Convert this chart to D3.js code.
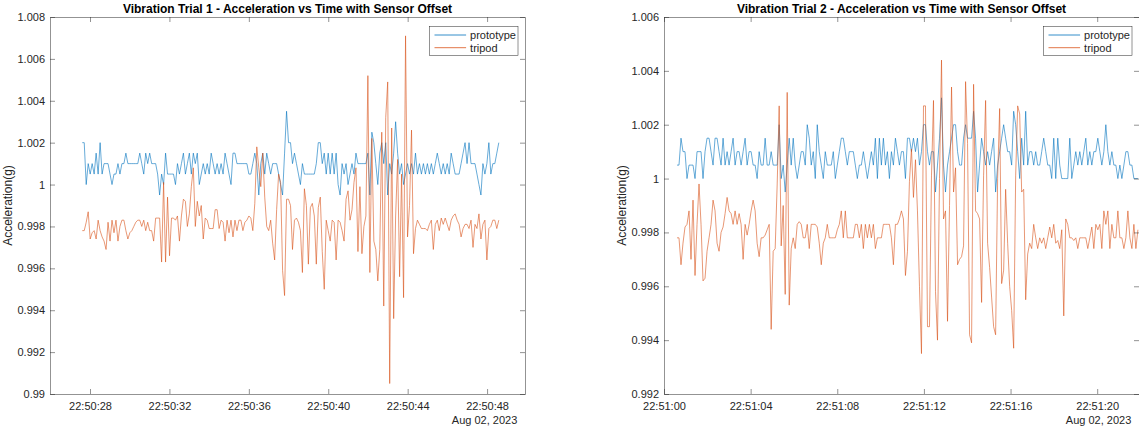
<!DOCTYPE html>
<html>
<head>
<meta charset="utf-8">
<script src="https://cdn.jsdelivr.net/npm/d3@7"></script>
<style>
  body { margin: 0; background: #fff; }
  svg { display: block; font-family: "Liberation Sans", Arial, Helvetica, sans-serif; }
</style>
</head>
<body>
<div id="chart"></div>
<script>
// names of the two sensors
var seriesNames = ["prototype", "tripod"];
var dateLabel = "Aug 02, 2023";
var day = "2023-08-02";

// ---- trial 1 (samples, ~10 per second)
var trial1Title = "Vibration Trial 1 - Acceleration vs Time with Sensor Offset";
var trial1Start = "22:50:27.61", trial1End = "22:50:48.59";
var trial1XLim = ["22:50:25.985", "22:50:49.91"];
var trial1XTicks = ["22:50:28", "22:50:32", "22:50:36", "22:50:40", "22:50:44", "22:50:48"];
var trial1YTicks = ["0.99", "0.992", "0.994", "0.996", "0.998", "1", "1.002", "1.004", "1.006", "1.008"];
var trial1Prototype = [
  1.002, 1.002, 1.0, 1.001, 1.0005, 1.001, 1.0005, 1.0015, 1.0005, 1.002,
  1.0005, 1.001, 1.001, 1.001, 1.0005, 1.0, 1.0005, 1.0005, 1.001, 1.0005,
  1.001, 1.001, 1.0015, 1.001, 1.001, 1.001, 1.001, 1.001, 1.001, 1.0015,
  1.001, 1.0005, 1.0015, 1.001, 1.0015, 1.001, 1.001, 1.001, 1.0005, 0.9995,
  1.0005, 1.0, 1.0015, 1.0005, 1.0005, 1.0005, 1.0005, 1.0, 1.001, 1.0005,
  1.001, 1.0015, 1.0005, 1.001, 1.0015, 1.0005, 1.0015, 1.001, 1.0015, 1.0,
  1.0005, 1.001, 1.0005, 1.001, 1.0005, 1.0015, 1.001, 1.0005, 1.001, 1.0005,
  1.001, 1.0005, 1.0015, 1.001, 1.0005, 1.0, 1.0015, 1.0015, 1.001, 1.001,
  1.001, 1.001, 1.001, 1.001, 1.0005, 1.0005, 1.001, 1.0015, 1.001, 0.9995,
  1.001, 1.0015, 1.0005, 1.0015, 1.001, 1.0005, 1.001, 1.001, 1.001, 1.0005,
  1.0, 0.9995, 1.0015, 1.0035, 1.002,
  1.002, 1.001, 1.0015, 1.001, 1.0005, 1.0, 1.001, 1.0005, 1.0005, 1.0005,
  1.0005, 1.0005, 1.0005, 1.001, 1.002, 1.002, 1.001, 1.0015, 1.0005, 1.0015,
  1.0005, 1.0015, 1.0005, 1.0015, 1.0, 0.9995, 1.001, 1.0005, 1.001, 1.0,
  1.0005, 1.001, 1.0005, 1.0015, 1.001, 1.001, 1.001, 1.001, 1.001, 1.0015,
  0.9995, 1.0025, 1.002, 1.001, 1.0, 1.0015, 1.002, 1.001, 1.002, 0.9995,
  1.001, 1.0005, 1.0015, 1.003, 1.0015, 1.0005, 1.001, 1.0, 1.0005, 1.001,
  1.0005, 1.001, 1.0005, 1.0015, 1.0005, 1.001, 1.0005, 1.001, 1.0005, 1.001,
  1.0005, 1.001, 1.0005, 1.001, 1.0015, 1.001, 1.0005, 1.001, 1.0005, 1.001,
  1.0005, 1.0015, 1.001, 1.0005, 1.0005, 1.0005, 1.001, 1.0015, 1.002, 1.001,
  1.002, 1.001, 1.001, 1.001, 1.0005, 1.0, 0.9995, 1.001, 1.0005, 1.001,
  1.002, 1.0005, 1.001, 1.001, 1.0015, 1.002
];
var trial1Tripod = [
  0.9978, 0.9978, 0.9982, 0.9987, 0.9974, 0.9977, 0.9978, 0.9974, 0.9983, 0.9978,
  0.9975, 0.9973, 0.9969, 0.9982, 0.9973, 0.9983, 0.9977, 0.9983, 0.9973, 0.998,
  0.9983, 0.9983, 0.9978, 0.9974, 0.9977, 0.9978, 0.998, 0.9982, 0.9983, 0.9983,
  0.998, 0.9983, 0.9978, 0.9982, 0.9978, 0.9978, 0.9973, 0.9984, 0.9984, 0.9984,
  0.9963, 1.0001, 0.9963, 0.9994, 0.9966, 0.9984, 0.9984, 0.9983, 0.9985, 0.9973,
  0.9985, 0.9993, 0.9992, 0.998, 0.9986, 0.9999, 1.0008, 0.998, 0.9992, 0.9985,
  0.999, 0.9974, 0.9984, 0.9983, 0.9979, 0.9979, 0.9979, 0.9988, 0.9988, 0.9979,
  0.9983, 0.9982, 0.9973, 0.9983, 0.9977, 0.9983, 0.9975, 0.9983, 0.9978, 0.9983,
  0.9983, 0.9978, 0.9982, 0.9983, 0.9985, 0.9984, 0.9978, 0.9991, 1.0018, 1.0008,
  0.9999, 1.0015, 0.9994, 0.998, 0.9978, 0.9983, 0.9972, 0.9964, 0.9988, 1.0005,
  1.0001, 0.9959, 0.9947, 0.9993, 0.9993, 0.999, 0.9969, 0.9983, 0.9984, 0.9982,
  0.9978, 0.9958, 0.9998, 0.999, 0.9962, 0.9989, 0.9991, 0.9985, 0.9962, 0.9989,
  0.9994, 0.9968, 0.995, 0.9983, 0.9978, 0.9973, 0.9983, 0.9982, 0.9964, 0.9983,
  0.9982, 0.9978, 0.9973, 0.9993, 0.9997, 0.9983, 0.9988, 1.0001, 1.0008, 0.9968,
  0.9999, 0.9967, 0.998, 0.9985, 1.0052, 0.9958, 1.0022, 0.9973, 0.9969, 0.9954,
  0.9969, 1.0025, 0.9942, 1.0032, 1.0049, 0.9905, 1.0027, 0.9936, 0.9985, 1.0012,
  0.9956, 1.0005, 0.9946, 1.0071, 0.9975, 0.999, 1.0026, 0.9967, 0.9979, 0.9983,
  0.9981, 0.9979, 0.9979, 0.9979, 0.9978, 0.9981, 0.9983, 0.9969, 0.9981, 0.9983,
  0.9978, 0.9984, 0.9981, 0.9984, 0.9981, 0.9978, 0.9983, 0.9985, 0.9986, 0.9983,
  0.9981, 0.9975, 0.9979, 0.9981, 0.9981, 0.9979, 0.9983, 0.997, 0.9981, 0.9979,
  0.9986, 0.9974, 0.9981, 0.9983, 0.9964, 0.9979, 0.998, 0.9983, 0.9983, 0.9979, 0.9983
];

// ---- trial 2
var trial2Title = "Vibration Trial 2 - Acceleration vs Time with Sensor Offset";
var trial2Start = "22:51:00.60", trial2End = "22:51:21.88";
var trial2XLim = ["22:51:00", "22:51:21.93"];
var trial2XTicks = ["22:51:00", "22:51:04", "22:51:08", "22:51:12", "22:51:16", "22:51:20"];
var trial2YTicks = ["0.992", "0.994", "0.996", "0.998", "1", "1.002", "1.004", "1.006"];
var trial2Prototype = [
  1.0005, 1.0005, 1.0015, 1.001, 1.001, 1.0, 1.0005, 1.0005, 1.0005, 1.0,
  1.001, 1.001, 1.001, 1.0, 1.001, 1.0015, 1.0015, 1.001, 1.0005, 1.0015,
  1.0015, 1.001, 1.0005, 1.0015, 1.0005, 1.001, 1.0005, 1.001, 1.0015, 1.0005,
  1.001, 1.001, 1.0005, 1.001, 1.0015, 1.0005, 1.001, 1.001, 1.0005, 1.0005,
  1.0, 1.001, 1.0005, 1.0005, 1.0015, 1.0005, 1.0005, 1.001, 1.0005, 1.0005,
  1.0005, 1.002, 1.0, 1.0005, 0.9995, 1.0005, 1.0015, 1.0005, 1.0015, 1.0005,
  1.0, 1.0005, 1.001, 1.001, 1.0005, 1.002, 1.0015, 1.0005, 1.001, 1.0,
  1.002, 1.001, 1.0005, 1.0, 1.001, 1.0005, 1.0005, 1.0005, 1.001, 1.0,
  1.0005, 1.001, 1.0015, 1.0015, 1.001, 1.0005, 1.001, 1.001, 1.001, 1.0005,
  1.0, 1.0005, 1.0005, 1.001, 1.0005, 1.0, 1.0005, 1.001, 1.0005, 1.0015,
  1.0, 1.0015, 1.0005, 1.0015, 1.0005, 1.001, 1.0, 1.001, 1.0005, 1.0015,
  1.001,
  1.0005, 1.001, 1.001, 1.0, 1.0015, 1.0015, 1.001, 1.0015, 1.001, 1.0015,
  1.0005, 1.001, 1.002, 1.002, 1.001, 1.0005, 1.001, 1.001, 0.9995, 1.0005,
  1.0015, 1.003, 1.0005, 0.9995, 1.0005, 1.001, 1.0015, 1.002, 1.002, 1.001,
  1.0005, 1.0005, 1.0015, 1.002, 1.0015, 1.0015, 1.0015, 1.0025, 1.0015, 0.9995,
  1.0005, 1.0015, 1.001, 1.0005, 1.001, 1.0005, 1.001, 1.0015, 0.9995, 1.0005,
  1.001, 1.0015, 1.002, 1.0015, 1.001, 1.001, 1.0005, 1.0025, 1.002, 1.001,
  1.0, 1.0015, 1.0005, 1.0025, 1.0005, 1.001, 1.001, 1.0005, 1.001, 1.0005,
  1.0005, 1.001, 1.0015, 1.001, 1.0005, 1.0005, 1.0, 1.0015, 1.0, 1.0015,
  1.0005, 1.0, 1.0, 1.0, 1.0, 1.0015, 1.0, 1.0005, 1.001, 1.0005,
  1.001, 1.0005, 1.001, 1.0015, 1.0005, 1.001, 1.0005, 1.001, 1.001, 1.0015,
  1.001, 1.0005, 1.001, 1.002, 1.001, 1.0005, 1.001, 1.0005, 1.0005, 1.0,
  1.0005, 1.0, 1.0005, 1.001, 1.001, 1.0005, 1.0005, 1.0, 1.0, 1.0
];
var trial2Tripod = [
  0.9978, 0.9978, 0.9968, 0.9976, 0.9982, 0.9983, 0.9988, 0.997, 0.9992, 0.9964,
  0.9983, 0.9998, 0.9983, 0.9962, 0.9963, 0.9973, 0.9978, 0.9983, 0.9992, 0.9988,
  0.9976, 0.9973, 0.998, 0.9982, 0.9987, 0.9993, 0.9988, 0.9987, 0.9983, 0.9988,
  0.9983, 0.9987, 0.9983, 0.997, 0.9983, 0.9979, 0.9983, 0.9988, 0.9992, 0.9988,
  0.9976, 0.9971, 0.9978, 0.9978, 0.9979, 0.9981, 0.9983, 0.9944, 0.9973, 0.9974,
  0.9998, 1.0027, 0.9975, 0.999, 0.9957, 1.0032, 0.9953, 0.9974, 0.9978, 0.9974,
  0.9983, 0.9984, 0.9983, 0.9978, 0.9978, 0.9983, 0.9974, 0.9983, 0.9983, 0.9983,
  0.9982, 0.9976, 0.9968, 0.9976, 0.9978, 0.9983, 0.9978, 0.9978, 0.9978, 0.9978,
  0.9981, 0.9983, 0.9988, 0.9978, 0.9988, 0.9978, 0.9978, 0.9978, 0.9978, 0.9983,
  0.9983, 0.9978, 0.9983, 0.9974, 0.9983, 0.9978, 0.9983, 0.9978, 0.9983, 0.9974,
  0.9978, 0.9978, 0.9978, 0.9983, 0.9983, 0.9983, 0.9983, 0.9978, 0.9968, 0.9983,
  0.9983,
  0.9985, 0.9988, 0.9985, 0.9964, 0.9973, 0.9999, 1.0011, 0.9993, 1.0007, 0.9988,
  0.996, 0.9935, 1.0027, 1.0027, 0.9945, 0.9945, 1.0001, 1.0029, 0.9958, 0.994,
  1.0, 1.0044, 0.9985, 0.9988, 0.9947, 0.999, 1.0034, 0.9995, 1.0004, 0.9968,
  0.997, 0.9971, 0.9975, 1.0036, 1.0013, 0.9942, 0.9939, 1.0035, 0.9988, 0.9987,
  0.9985, 0.9954, 1.0001, 1.0029, 0.9976, 0.9967, 0.9956, 0.9945, 0.9942, 1.0,
  1.0026, 0.9961, 0.9966, 0.9996, 0.9976, 0.996, 0.9951, 0.9937, 1.0001, 1.0027,
  1.0024, 0.9995, 0.9996, 0.9955, 0.9972, 0.9976, 0.9974, 0.9983, 0.9978, 0.9974,
  0.9978, 0.9976, 0.9978, 0.9974, 0.9978, 0.9982, 0.9978, 0.9983, 0.9976, 0.9977,
  0.9974, 0.9981, 0.9949, 0.9985, 0.9983, 0.9978, 0.9978, 0.9977, 0.9978, 0.9974,
  0.9978, 0.9978, 0.9978, 0.9978, 0.9974, 0.9978, 0.9982, 0.9974, 0.9983, 0.9981,
  0.9983, 0.9974, 0.9988, 0.9983, 0.9988, 0.9974, 0.9983, 0.9978, 0.9978, 0.9988,
  0.9978, 0.9978, 0.9974, 0.9978, 0.9988, 0.9978, 0.9974, 0.9983, 0.9974, 0.9981
];

// ---- layout
var svgWidth = 1139, svgHeight = 428;
var margin = {top: 17, bottom: 34};
var height = svgHeight - margin.top - margin.bottom;
var colors = ["#0072BD", "#D95319"];
var axisColor = "#262626";

var toDate = function(s) { return new Date(day + "T" + s + "Z"); };

var svg = d3.select("#chart")
  .append("svg")
    .attr("width", svgWidth)
    .attr("height", svgHeight);

var panels = [
  {id: 1, left: 50, width: 475, title: trial1Title, start: trial1Start, end: trial1End,
   xlim: trial1XLim, xticks: trial1XTicks, yticks: trial1YTicks, series: [trial1Prototype, trial1Tripod]},
  {id: 2, left: 664, width: 475, title: trial2Title, start: trial2Start, end: trial2End,
   xlim: trial2XLim, xticks: trial2XTicks, yticks: trial2YTicks, series: [trial2Prototype, trial2Tripod]}
];

panels.forEach(drawPanel);

function drawPanel(p) {
  var g = svg.append("g")
    .attr("transform", "translate(" + p.left + "," + margin.top + ")");

  var x = d3.scaleUtc()
    .domain(p.xlim.map(toDate))
    .range([0, p.width]);
  var yVals = p.yticks.map(Number);
  var y = d3.scaleLinear()
    .domain(d3.extent(yVals))
    .range([height, 0]);

  // clip the traces to the axes box
  g.append("clipPath").attr("id", "clip" + p.id)
    .append("rect").attr("width", p.width).attr("height", height);

  // sample times: evenly spaced between the first and last sample
  var t0 = toDate(p.start).getTime(), t1 = toDate(p.end).getTime();
  var line = d3.line()
    .x(function(d, i, arr) { return x(new Date(t0 + (t1 - t0) * i / (arr.length - 1))); })
    .y(function(d) { return y(d); });

  g.append("g").attr("clip-path", "url(#clip" + p.id + ")")
    .selectAll("path")
    .data(p.series)
    .enter()
    .append("path")
      .attr("d", function(d) { return line(d); })
      .attr("fill", "none")
      .attr("stroke", function(d, i) { return colors[i]; })
      .attr("stroke-width", 0.6)
      .attr("stroke-linejoin", "round");

  var xTickDates = p.xticks.map(toDate);
  var fmt = d3.utcFormat("%H:%M:%S");

  // bottom axis with labels, ticks pointing inward
  var bottom = g.append("g")
    .attr("transform", "translate(0," + height + ")")
    .call(d3.axisBottom(x).tickValues(xTickDates).tickFormat(fmt)
      .tickSizeInner(-5).tickSizeOuter(0).tickPadding(8));
  // top axis, ticks only
  var topAx = g.append("g")
    .call(d3.axisTop(x).tickValues(xTickDates).tickFormat("")
      .tickSizeInner(-5).tickSizeOuter(0));
  // left axis with labels
  var left = g.append("g")
    .call(d3.axisLeft(y).tickValues(yVals).tickFormat(function(d, i) { return p.yticks[i]; })
      .tickSizeInner(-5).tickSizeOuter(0).tickPadding(5));
  // right axis, ticks only
  var right = g.append("g")
    .attr("transform", "translate(" + p.width + ",0)")
    .call(d3.axisRight(y).tickValues(yVals).tickFormat("")
      .tickSizeInner(-5).tickSizeOuter(0));

  [bottom, topAx, left, right].forEach(function(a) {
    a.selectAll("path.domain").attr("stroke", axisColor).attr("stroke-width", 0.5);
    a.selectAll(".tick line").attr("stroke", axisColor).attr("stroke-width", 0.5);
    a.selectAll("text")
      .attr("fill", axisColor)
      .style("font-size", "11px")
      .style("font-family", "'Liberation Sans', Arial, sans-serif");
  });

  // date under the last tick
  g.append("text")
    .attr("x", p.width - 7.7)
    .attr("y", height + 30)
    .attr("text-anchor", "end")
    .attr("fill", axisColor)
    .style("font-size", "11px")
    .text(dateLabel);

  // y label
  g.append("text")
    .attr("transform", "translate(" + (-38) + "," + (height / 2) + ") rotate(-90)")
    .attr("text-anchor", "middle")
    .attr("fill", axisColor)
    .style("font-size", "12px")
    .text("Acceleration(g)");

  // title
  g.append("text")
    .attr("x", p.width / 2)
    .attr("y", -4)
    .attr("text-anchor", "middle")
    .attr("fill", "#000")
    .style("font-size", "12px")
    .style("font-weight", "bold")
    .text(p.title);

  // legend, top right inside the box
  var legW = 88.5, legH = 29;
  var legend = g.append("g")
    .attr("transform", "translate(" + (p.width - 7 - legW) + ",9.7)");
  legend.append("rect")
    .attr("width", legW).attr("height", legH)
    .attr("fill", "#fff")
    .attr("stroke", axisColor)
    .attr("stroke-width", 0.5);
  var rows = legend.selectAll("g.row")
    .data(seriesNames)
    .enter()
    .append("g")
      .attr("class", "row")
      .attr("transform", function(d, i) { return "translate(0," + (8.3 + i * 12.7) + ")"; });
  rows.append("line")
    .attr("x1", 5).attr("x2", 36.6)
    .attr("stroke", function(d, i) { return colors[i]; })
    .attr("stroke-width", 0.8);
  rows.append("text")
    .attr("x", 40.6)
    .attr("dy", "0.35em")
    .attr("fill", axisColor)
    .style("font-size", "11px")
    .text(function(d) { return d; });
}
</script>
</body>
</html>
